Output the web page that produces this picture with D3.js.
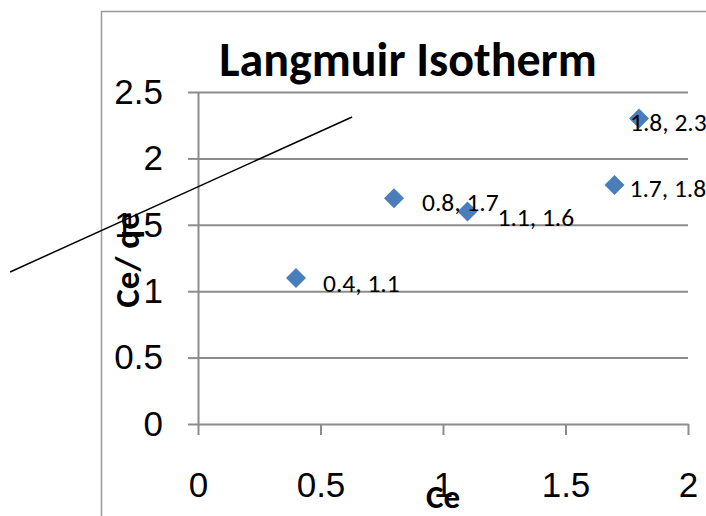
<!DOCTYPE html>
<html>
<head>
<meta charset="utf-8">
<script src="https://cdn.jsdelivr.net/npm/d3@7"></script>
<style>
  body { margin: 0; background: #fff; }
  svg { display: block; font-family: Carlito, Calibri, Lato, sans-serif; }
  .axis path, .axis line, .grid line { stroke: #8c8c8c; stroke-width: 2; }
  .grid path { display: none; }
  .axis text { font-size: 35px; fill: #000; }
</style>
</head>
<body>
<div id="chart"><svg width="706" height="516"></svg></div>
<script>
// data
const ceValues = [0.4, 0.8, 1.1, 1.7, 1.8];
const ceQeValues = [1.1, 1.7, 1.6, 1.8, 2.3];
const xTicks = [0, 0.5, 1, 1.5, 2];
const yTicks = [0, 0.5, 1, 1.5, 2, 2.5];
// the stray straight line, in data units (Ce, Ce/qe)
const lineCe = [-0.767, 0.629];
const lineCeQe = [1.145, 2.312];
// label nudges (px) as placed in the original
const labelDx = [27, 28, 30, 15, -9];
const labelDy = [5, 4, 6, 3, 4];

const svg = d3.select('#chart svg');

const x = d3.scaleLinear().domain([0, 2]).range([198, 688]);
const y = d3.scaleLinear().domain([0, 2.5]).range([424, 92]);

// chart frame (runs off the right and bottom edges)
svg.append('rect')
    .attr('x', 101.5).attr('y', 11.5)
    .attr('width', 700).attr('height', 600)
    .attr('fill', 'none').attr('stroke', '#9a9a9a').attr('stroke-width', 1.5);

// horizontal gridlines
svg.append('g')
    .attr('class', 'grid')
    .attr('transform', `translate(${x(0)},0)`)
    .call(d3.axisLeft(y).tickValues(yTicks.slice(1)).tickSize(-(x(2) - x(0))).tickFormat(''));

svg.append('g')
    .attr('class', 'axis')
    .attr('transform', `translate(${x(0)},0)`)
    .call(d3.axisLeft(y).tickValues(yTicks).tickSize(10).tickSizeOuter(0).tickPadding(25)
        .tickFormat(d => String(d)));

svg.append('g')
    .attr('class', 'axis')
    .attr('transform', `translate(0,${y(0)})`)
    .call(d3.axisBottom(x).tickValues(xTicks).tickSize(11).tickSizeOuter(0).tickPadding(37)
        .tickFormat(d => String(d)));

// title
svg.append('text')
    .attr('x', 408).attr('y', 76)
    .attr('text-anchor', 'middle')
    .attr('font-size', 48).attr('font-weight', 'bold')
    .text('Langmuir Isotherm');

// axis titles
svg.append('text')
    .attr('x', 443).attr('y', 508)
    .attr('text-anchor', 'middle')
    .attr('font-size', 33).attr('font-weight', 'bold')
    .text('Ce');

svg.append('text')
    .attr('transform', 'translate(139,260) rotate(-90)')
    .attr('text-anchor', 'middle')
    .attr('font-size', 35).attr('font-weight', 'bold')
    .text('Ce/ qe');

// markers
const pts = ceValues.map((c, i) => ({ x: c, y: ceQeValues[i], i: i }));

svg.append('g').selectAll('path')
    .data(pts)
    .enter().append('path')
    .attr('d', d3.symbol().type(d3.symbolSquare).size(200))
    .attr('transform', d => `translate(${x(d.x)},${y(d.y)}) rotate(45)`)
    .attr('fill', '#4a7ebb');

// data labels
svg.append('g').selectAll('text')
    .data(pts)
    .enter().append('text')
    .attr('x', d => x(d.x) + labelDx[d.i])
    .attr('y', d => y(d.y) + labelDy[d.i])
    .attr('dy', '0.35em')
    .attr('font-size', 25.5)
    .text(d => `${d.x}, ${d.y}`);

// stray line drawn over the chart
svg.append('line')
    .attr('x1', x(lineCe[0])).attr('y1', y(lineCeQe[0]))
    .attr('x2', x(lineCe[1])).attr('y2', y(lineCeQe[1]))
    .attr('stroke', '#000').attr('stroke-width', 1.5);
</script>
</body>
</html>
